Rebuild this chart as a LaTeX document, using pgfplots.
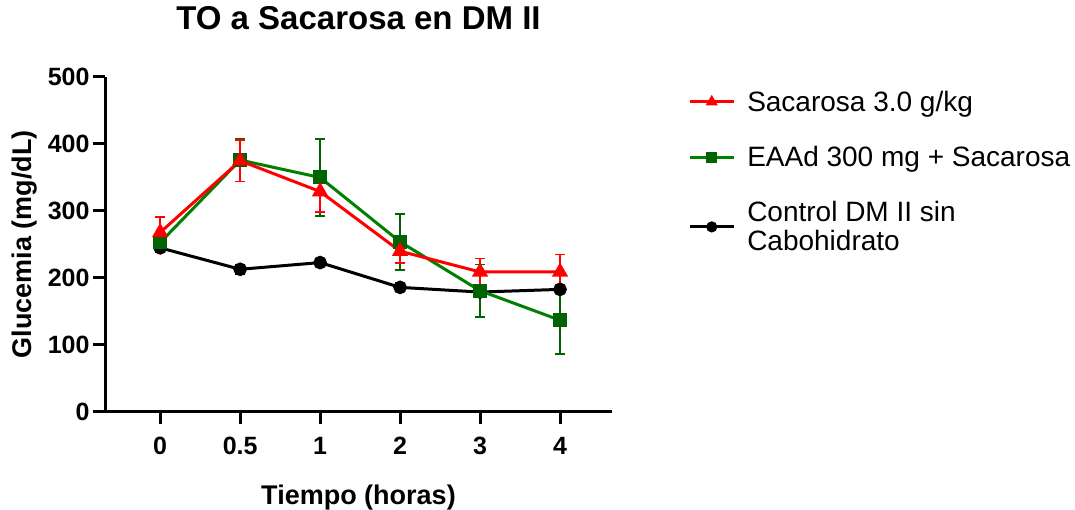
\documentclass[border=0pt]{standalone}
\usepackage{fontspec}
\setmainfont{Liberation Sans}
\usepackage{pgfplots}
\pgfplotsset{compat=1.18}
\definecolor{cgreen}{RGB}{0,128,0}
\definecolor{cdgreen}{RGB}{0,100,0}
\begin{document}
\begin{tikzpicture}[x=1pt,y=1pt]
\path[use as bounding box] (0,0) rectangle (1075,510);
\begin{axis}[
  at={(105pt,98pt)}, anchor=south west,
  scale only axis, width=507pt, height=335pt,
  xmin=-0.69, xmax=5.65, ymin=0, ymax=500,
  axis x line*=bottom, axis y line*=left,
  axis line style={line width=3pt, black},
  xtick={0,...,5}, xticklabels={0,0.5,1,2,3,4},
  ytick={0,100,...,500},
  tick align=outside, major tick length=12pt,
  tick style={line width=3pt, black},
  ticklabel style={font=\bfseries\fontsize{25}{28}\selectfont},
  xticklabel style={yshift=-10pt},
  /pgf/number format/assume math mode=true,
  title={TO a Sacarosa en DM II},
  title style={font=\bfseries\fontsize{33}{36}\selectfont, at={(axis description cs:0.5,1.1224)}, anchor=base},
  xlabel={Tiempo (horas)},
  xlabel style={font=\bfseries\fontsize{27}{30}\selectfont, at={(axis description cs:0.5,-0.2776)}, anchor=base},
  ylabel={Glucemia (mg/dL)},
  ylabel style={font=\bfseries\fontsize{27}{30}\selectfont, at={(axis description cs:-0.144,0.5)}, anchor=base},
  legend style={at={(axis description cs:1.15,0.965)}, anchor=north west, draw=none, fill=none,
    font=\fontsize{28}{29}\selectfont, cells={anchor=west, align=left}, row sep=29.5pt, column sep=10pt, inner sep=0pt},
  legend image code/.code={\draw[mark repeat=2,mark phase=2,#1] plot coordinates {(0pt,0pt) (22pt,0pt) (44pt,0pt)};},
  legend image post style={mark size=4pt},
  reverse legend,
  clip=false,
]
% Control
\addplot[black, line width=3pt, mark=*, mark size=5.3pt, mark options={solid, fill=black},
  error bars/.cd, y dir=both, y explicit,
  error bar style={line width=1.8pt, black},
  error mark options={rotate=90, mark size=5pt, line width=1.8pt, black}]
  coordinates {(0,245) +- (0,7) (1,213) +- (0,7) (2,223) +- (0,4) (3,186) +- (0,6) (4,179) +- (0,5) (5,183) +- (0,5)};
\addlegendentry{Control DM II sin\\Cabohidrato}
% EAAd
\addplot[cgreen, line width=3pt, mark=square*, mark size=5.5pt, mark options={solid, fill=cdgreen, draw=cdgreen},
  error bars/.cd, y dir=both, y explicit,
  error bar style={line width=1.8pt, cdgreen},
  error mark options={rotate=90, mark size=5pt, line width=1.8pt, cdgreen}]
  coordinates {(0,253) +- (0,8) (1,376) +- (0,32) (2,350) +- (0,57) (3,254) +- (0,42) (4,181) +- (0,39) (5,137) +- (0,50)};
\addlegendentry{EAAd 300 mg + Sacarosa}
% Sacarosa
\addplot[red, line width=3pt, mark=triangle*, mark size=6.5pt, mark options={solid, fill=red},
  error bars/.cd, y dir=both, y explicit,
  error bar style={line width=1.8pt, red},
  error mark options={rotate=90, mark size=5pt, line width=1.8pt, red}]
  coordinates {(0,268) +- (0,23) (1,375) +- (0,31) (2,329) +- (0,31) (3,240) +- (0,18) (4,209) +- (0,20) (5,209) +- (0,26)};
\addlegendentry{Sacarosa 3.0 g/kg}
\end{axis}
\end{tikzpicture}
\end{document}
